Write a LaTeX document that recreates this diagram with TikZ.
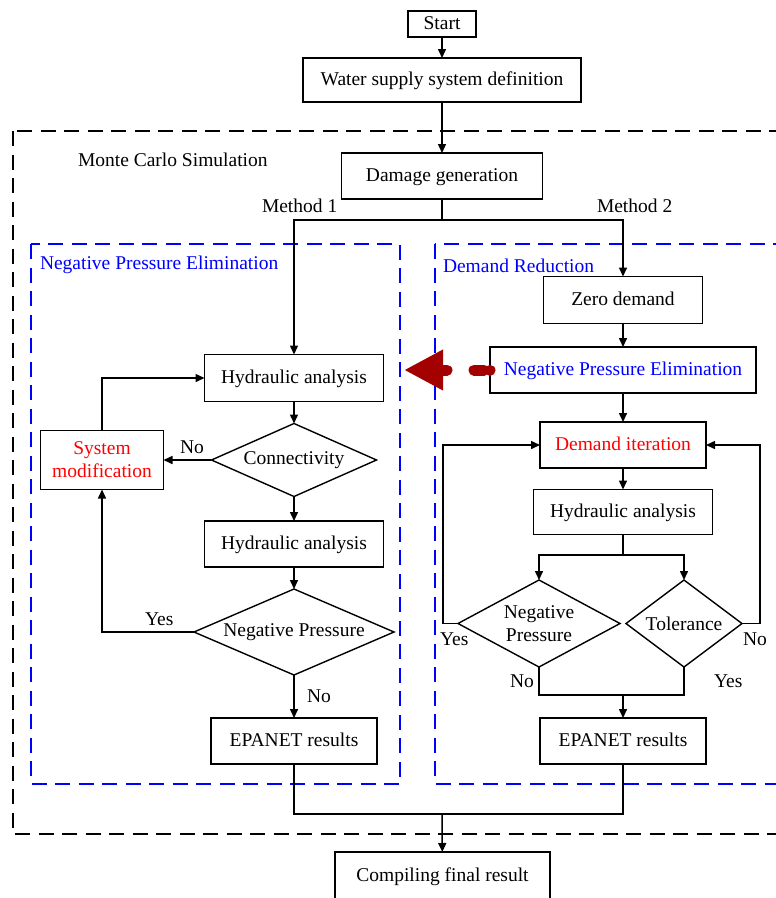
\documentclass[tikz,border=0pt]{standalone}
\usepackage{fontspec}
\setmainfont{Liberation Serif}
\usetikzlibrary{shapes.geometric,arrows.meta}
\definecolor{bblue}{RGB}{0,0,255}
\definecolor{rred}{RGB}{255,0,0}
\definecolor{dred}{RGB}{163,0,0}
\begin{document}
\begin{tikzpicture}[x=1pt,y=-1pt,
  font=\fontsize{19.5}{23}\selectfont,
  box/.style={draw, line width=1.7pt, inner sep=0pt, outer sep=0pt, align=center},
  onebox/.style={box, text height=15pt, text depth=4pt},
  dia/.style={draw, shape=diamond, line width=1.4pt, inner sep=0pt, outer sep=0pt},
  txt/.style={inner sep=0pt, outer sep=0pt, anchor=base west},
  ln/.style={line width=1.5pt},
  arr/.style={line width=1.5pt, -{Triangle[length=9pt,width=8pt]}},
  blk/.style={draw=black, line width=2.4pt, dash pattern=on 15pt off 8.5pt},
  blu/.style={draw=bblue, line width=2pt, dash pattern=on 15pt off 8.5pt}]
\useasboundingbox (0,0) rectangle (776,898);
\clip (0,0) rectangle (776,898);

% dashed frames
\draw[blk] (13,131) rectangle (800,834);
\draw[blu] (31,244) rectangle (400,784);
\draw[blu] (435,244) rectangle (800,784);

% frame labels
\node[txt] (mc) at (78,166) {Monte Carlo Simulation};
\node[txt] (m1) at (262,212) {Method 1};
\node[txt] (m2) at (597,212) {Method 2};
\node[txt, text=bblue] (npelab) at (40,269) {Negative Pressure Elimination};
\node[txt, text=bblue] (drlab) at (443,272) {Demand Reduction};

% top chain
\node[onebox, minimum width=68pt, minimum height=26pt] (start) at (442,24) {Start};
\node[onebox, minimum width=278pt, minimum height=44pt] (water) at (442,80) {Water supply system definition};
\node[onebox, minimum width=201pt, minimum height=46pt] (dmg) at (442,176) {Damage generation};

% left column
\node[onebox, minimum width=179pt, minimum height=47pt] (hyd1) at (294,378) {Hydraulic analysis};
\node[dia, minimum width=165pt, minimum height=73pt, label={center:Connectivity}] (conn) at (294,460) {};
\node[box, minimum width=123pt, minimum height=59pt, text=rred] (sysmod) at (102,460) {System\\modification};
\node[onebox, minimum width=179pt, minimum height=46pt] (hyd2) at (294,544) {Hydraulic analysis};
\node[dia, minimum width=200pt, minimum height=86pt, label={center:Negative Pressure}] (np1) at (294,632) {};
\node[onebox, minimum width=166pt, minimum height=46pt] (epa1) at (294,741) {EPANET results};

% right column
\node[onebox, minimum width=159pt, minimum height=47pt] (zero) at (623,300) {Zero demand};
\node[onebox, minimum width=266pt, minimum height=46pt, text=bblue] (npe2) at (623,370) {Negative Pressure Elimination};
\node[onebox, minimum width=166pt, minimum height=46pt, text=rred] (di) at (623,445) {Demand iteration};
\node[onebox, minimum width=179pt, minimum height=45pt] (hyd3) at (623,512) {Hydraulic analysis};
\node[dia, minimum width=162pt, minimum height=87pt, label={[align=center]center:Negative\\Pressure}] (np2) at (539,623.5) {};
\node[dia, minimum width=116pt, minimum height=87pt, label={center:Tolerance}] (tol) at (684,623.5) {};
\node[onebox, minimum width=166pt, minimum height=46pt] (epa2) at (623,741) {EPANET results};

% bottom
\node[onebox, minimum width=215pt, minimum height=48pt] (comp) at (442.5,876) {Compiling final result};

% coordinates
\coordinate (fork) at (442,220);
\coordinate (split) at (623,555);
\coordinate (join2) at (623,695);
\coordinate (join) at (442,814);
\coordinate (redtip) at (404,370);

% top connectors
\draw[arr] (start) -- (water);
\draw[arr] (water) -- (dmg);
\draw[ln] (dmg.south) -- (fork);
\draw[arr] (fork) -| (hyd1.north);
\draw[arr] (fork) -| (zero.north);

% left connectors
\draw[arr] (hyd1) -- (conn);
\draw[arr] (conn) -- (sysmod);
\draw[arr] (sysmod.north) |- (hyd1.west);
\draw[arr] (conn) -- (hyd2);
\draw[arr] (hyd2) -- (np1);
\draw[arr] (np1.west) -| (sysmod.south);
\draw[arr] (np1) -- (epa1);

\node[txt] (noc) at (180,453) {No};
\node[txt] (yesl) at (145,625) {Yes};
\node[txt] (nol) at (307,702) {No};

% right connectors
\draw[arr] (zero) -- (npe2);
\draw[arr] (npe2) -- (di);
\draw[arr] (di) -- (hyd3);
\draw[ln] (hyd3.south) -- (split);
\draw[arr] (split) -| (np2.north);
\draw[arr] (split) -| (tol.north);
\draw[arr] (np2.west) -- ++(-15,0) |- (di.west);
\draw[arr] (tol.east) -- ++(18,0) |- (di.east);
\draw[ln] (np2.south) |- (join2) -| (tol.south);
\draw[arr] (join2) -- (epa2);

\node[txt] (yesr) at (440,645) {Yes};
\node[txt] (nor) at (743,645) {No};
\node[txt] (nob) at (510,687) {No};
\node[txt] (yesb) at (714,687) {Yes};

% bottom connectors
\draw[ln] (epa1.south) |- (join) -| (epa2.south);
\draw[arr] (join) -- (comp);

% red dashed arrow
\draw[dred, line width=11pt, line cap=round, dash pattern=on 10pt off 27pt on 20pt off 6pt, dash phase=57pt, -{Triangle[length=39pt,width=38pt]}] (npe2.west) -- (redtip);
\end{tikzpicture}
\end{document}
